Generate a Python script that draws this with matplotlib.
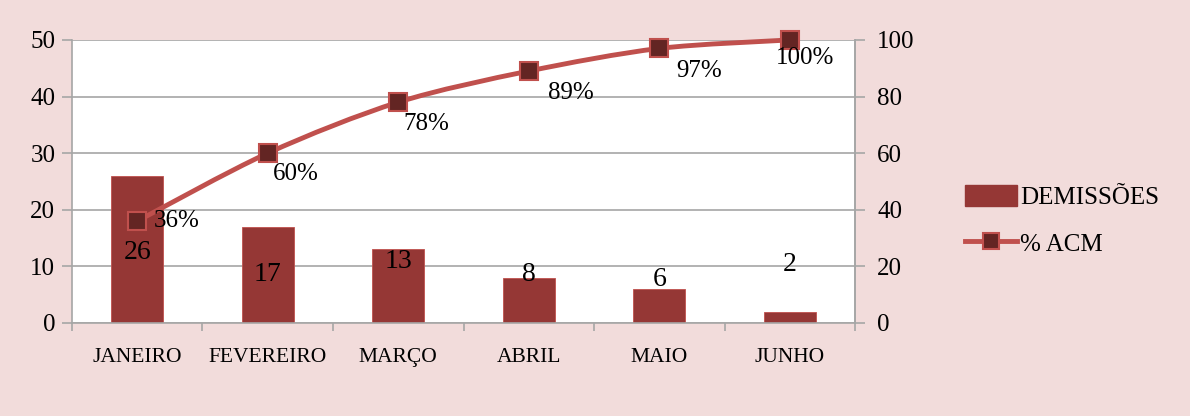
import numpy as np
import matplotlib.pyplot as plt
from matplotlib.path import Path
from matplotlib.patches import PathPatch
from matplotlib.lines import Line2D
from matplotlib.patches import Patch

# dados
meses = ['JANEIRO', 'FEVEREIRO', 'MARÇO', 'ABRIL', 'MAIO', 'JUNHO']
demissoes = [26, 17, 13, 8, 6, 2]
acm = [36, 60, 78, 89, 97, 100]

# posição dos rótulos das barras (em unidades do eixo esquerdo)
rot_y = [12.5, 8.5, 10.8, 8.5, 7.6, 10.3]
# deslocamento dos rótulos de % (pontos)
rot_off = [(12, 0), (4, -15), (4, -16), (14, -16), (12, -16), (-10, -13)]

BAR = '#953735'
LINHA = '#C0504D'
MARC = '#632523'
FUNDO = '#F2DCDB'

plt.rcParams['font.family'] = ['Liberation Serif', 'DejaVu Serif']

fig = plt.figure(figsize=(11.9, 4.16), dpi=100, facecolor=FUNDO)
ax = fig.add_axes([0.0605, 0.2236, 0.658, 0.6804])
ax.set_facecolor('white')
x = np.arange(len(meses))
ax.bar(x, demissoes, width=0.4, color=BAR, edgecolor=LINHA, linewidth=0.6, zorder=2)
ax.set_xlim(-0.5, len(meses) - 0.5)
ax.set_ylim(0, 50)
ax.set_yticks(range(0, 51, 10))
ax.yaxis.grid(True, color='#A6A6A6', linewidth=1.2, zorder=0)
ax.set_axisbelow(True)
ax.set_xticks(x)
ax.set_xticklabels(meses)
ax.set_xticks(np.arange(-0.5, len(meses)), minor=True)
ax.tick_params(axis='x', which='major', length=0, pad=18, labelsize=15.5)
ax.tick_params(axis='x', which='minor', length=6, color='#A6A6A6', width=1.2)
ax.tick_params(axis='y', length=7, color='#A6A6A6', width=1.2, labelsize=18, pad=5)
for s in ax.spines.values():
    s.set_color('#A6A6A6')
    s.set_linewidth(1.2)
ax.spines['top'].set_visible(False)

for xi, v, ly in zip(x, demissoes, rot_y):
    ax.text(xi, ly, str(v), ha='center', va='center', fontsize=20, zorder=5)

ax2 = ax.twinx()
ax2.set_ylim(0, 100)
ax2.set_yticks(range(0, 101, 20))
ax2.tick_params(axis='y', length=7, color='#A6A6A6', width=1.2, labelsize=18, pad=9)
for s in ax2.spines.values():
    s.set_visible(False)
ax2.spines['right'].set_visible(True)
ax2.spines['right'].set_color('#A6A6A6')
ax2.spines['right'].set_linewidth(1.2)

# linha suavizada (bezier entre os pontos)
pts = np.column_stack([x, acm]).astype(float)
verts = [tuple(pts[0])]
codes = [Path.MOVETO]
t = 0.15
for i in range(len(pts) - 1):
    p0 = pts[i - 1] if i > 0 else pts[i]
    p1 = pts[i]
    p2 = pts[i + 1]
    p3 = pts[i + 2] if i + 2 < len(pts) else pts[i + 1]
    c1 = p1 + (p2 - p0) * t
    c2 = p2 - (p3 - p1) * t
    verts += [tuple(c1), tuple(c2), tuple(p2)]
    codes += [Path.CURVE4] * 3
ax2.add_patch(PathPatch(Path(verts, codes), fill=False, edgecolor=LINHA, linewidth=3.5,
                        zorder=3, clip_on=False))
ax2.plot(x, acm, linestyle='none', marker='s', markersize=13, markerfacecolor=MARC,
         markeredgecolor=LINHA, markeredgewidth=1.5, zorder=4, clip_on=False)
for xi, v, off in zip(x, acm, rot_off):
    ax2.annotate(f'{v}%', (xi, v), xytext=off, textcoords='offset points',
                 ha='left', va='center', fontsize=18, zorder=5)

handles = [Patch(facecolor=BAR, edgecolor=BAR),
           Line2D([0], [0], color=LINHA, linewidth=3.5, marker='s', markersize=11,
                  markerfacecolor=MARC, markeredgecolor=LINHA, markeredgewidth=1.5)]
fig.legend(handles, ['DEMISSÕES', '% ACM'], loc='center left', bbox_to_anchor=(0.792, 0.47),
           frameon=False, fontsize=18, handlelength=2.1, handleheight=0.9,
           labelspacing=0.9, handletextpad=0.1)

fig.savefig('out.png', dpi=100, facecolor=FUNDO)
